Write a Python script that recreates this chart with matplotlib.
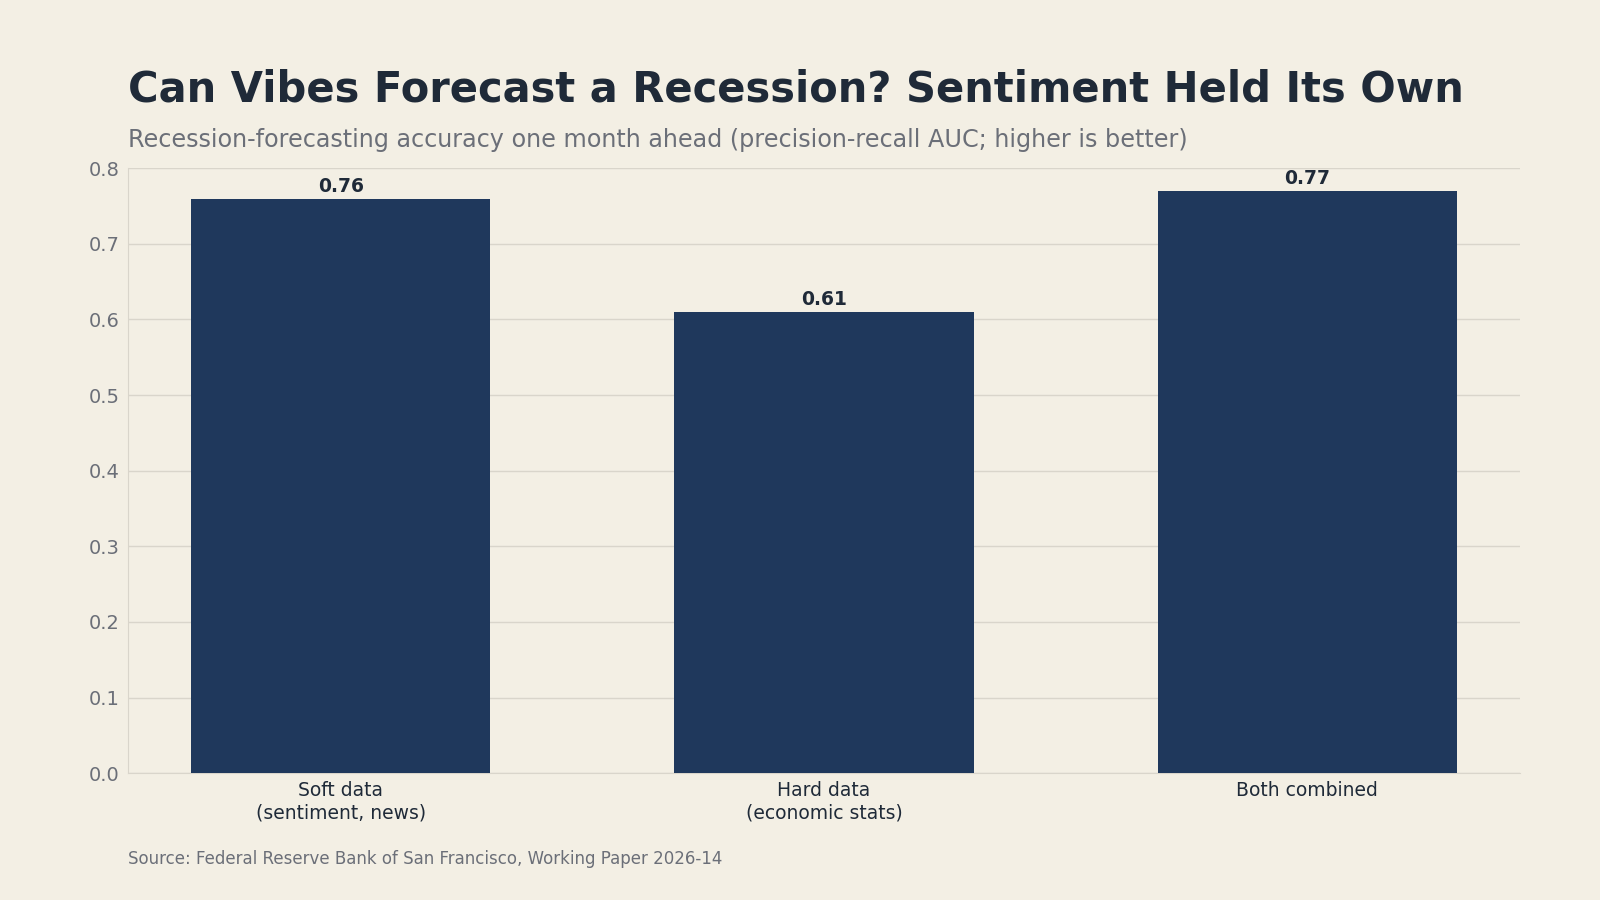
import numpy as np
import matplotlib.pyplot as plt

plt.rcParams['font.family'] = ['DejaVu Sans']

categories = ['Soft data\n(sentiment, news)', 'Hard data\n(economic stats)', 'Both combined']
auc = [0.76, 0.61, 0.77]
yticks = [0.0, 0.1, 0.2, 0.3, 0.4, 0.5, 0.6, 0.7, 0.8]

bg = '#f3efe4'
navy = '#1f385c'
dark = '#1f2a38'
grey = '#6b6f78'
gridc = '#d9d5cb'

fig = plt.figure(figsize=(16, 9), dpi=100, facecolor=bg)
ax = fig.add_axes([0.080, 0.141, 0.870, 0.672])
ax.set_facecolor(bg)

index = np.arange(len(categories))
bars = ax.bar(index, auc, 0.62, color=navy, zorder=3)
for b, v in zip(bars, auc):
    ax.text(b.get_x() + b.get_width() / 2, v + 0.004, '%.2f' % v,
            ha='center', va='bottom', fontsize=13.5, fontweight='bold', color=dark)

ax.set_xlim(-0.44, 2.44)
ax.set_ylim(0, 0.8)
ax.set_yticks(yticks)
ax.set_yticklabels(['%.1f' % t for t in yticks], fontsize=14, color=grey)
ax.set_xticks(index)
ax.set_xticklabels(categories, fontsize=13.5, color=dark)
ax.tick_params(length=0, pad=6)
ax.grid(axis='y', color=gridc, linewidth=1, zorder=0)
for s in ['top', 'right']:
    ax.spines[s].set_visible(False)
for s in ['left', 'bottom']:
    ax.spines[s].set_color(gridc)

fig.text(0.080, 0.900, 'Can Vibes Forecast a Recession? Sentiment Held Its Own',
         fontsize=30, fontweight='bold', color=dark, va='center', ha='left')
fig.text(0.080, 0.844, 'Recession-forecasting accuracy one month ahead (precision-recall AUC; higher is better)',
         fontsize=17.2, color=grey, va='center', ha='left')
fig.text(0.080, 0.045, 'Source: Federal Reserve Bank of San Francisco, Working Paper 2026-14',
         fontsize=12, color=grey, va='center', ha='left')

plt.savefig('out.png', dpi=100, facecolor=bg)
